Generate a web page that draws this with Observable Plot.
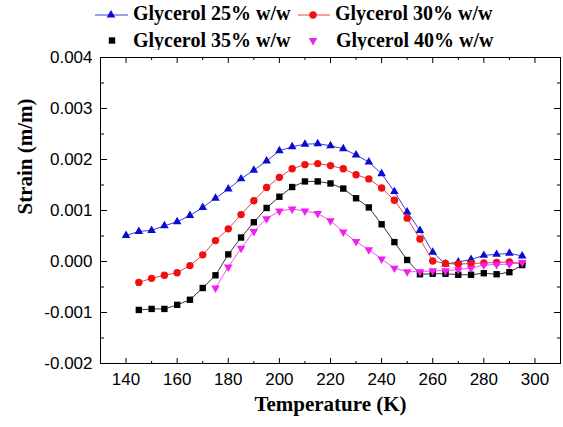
<!DOCTYPE html>
<html>
<head>
<meta charset="utf-8">
<script src="https://cdn.jsdelivr.net/npm/d3@7"></script>
<script src="https://cdn.jsdelivr.net/npm/@observablehq/plot@0.6"></script>
<style>
  body { margin: 0; background: #fff; }
  #wrap { width: 563px; height: 427px; position: relative; background: #fff; }
  #legend { display: block; }
  #chart svg { display: block; }
</style>
</head>
<body>
<div id="wrap">
  <div id="legend"></div>
  <div id="chart"></div>
</div>
<script>
// ---- data ----
const seriesNames = ["Glycerol 25% w/w", "Glycerol 30% w/w", "Glycerol 35% w/w", "Glycerol 40% w/w"];
const seriesColors = ["#0a0ad2", "#f01010", "#000000", "#f020f0"];

const temps25 = [140,145,150,155,160,165,170,175,180,185,190,195,200,205,210,215,220,225,230,235,240,245,250,255,260,265,270,275,280,285,290,295];
const strain25 = [0.00051,0.00059,0.00061,0.00070,0.00078,0.00090,0.00106,0.00124,0.00142,0.00162,0.00179,0.00197,0.00217,0.00225,0.00230,0.00231,0.00227,0.00221,0.00209,0.00195,0.00172,0.00137,0.00097,0.00061,0.00018,-0.00005,-0.00001,0.00004,0.00012,0.00014,0.00016,0.00011];

const temps30 = [145,150,155,160,165,170,175,180,185,190,195,200,205,210,215,220,225,230,235,240,245,250,255,260,265,270,275,280,285,290,295];
const strain30 = [-0.00041,-0.00033,-0.00027,-0.00022,-0.00008,0.00013,0.00041,0.00064,0.00092,0.00119,0.00145,0.00165,0.00182,0.00190,0.00192,0.00188,0.00182,0.00170,0.00162,0.00144,0.00120,0.00085,0.00044,0.00001,-0.00004,-0.00005,-0.00004,-0.00003,-0.00002,-0.00001,-0.00004];

const temps35 = [145,150,155,160,165,170,175,180,185,190,195,200,205,210,215,220,225,230,235,240,245,250,255,260,265,270,275,280,285,290,295];
const strain35 = [-0.00095,-0.00093,-0.00093,-0.00085,-0.00075,-0.00052,-0.00027,0.00014,0.00047,0.00077,0.00105,0.00127,0.00146,0.00157,0.00157,0.00153,0.00143,0.00124,0.00106,0.00073,0.00038,0.00003,-0.00025,-0.00024,-0.00024,-0.00026,-0.00026,-0.00023,-0.00025,-0.00021,-0.00007];

const temps40 = [175,180,185,190,195,200,205,210,215,220,225,230,235,240,245,250,255,260,265,270,275,280,285,290,295];
const strain40 = [-0.00052,-0.00011,0.00026,0.00059,0.00084,0.00099,0.00103,0.00099,0.00094,0.00080,0.00058,0.00039,0.00023,0.00005,-0.00013,-0.00020,-0.00020,-0.00018,-0.00018,-0.00016,-0.00013,-0.00007,-0.00006,-0.00005,-0.00002];

const xMajorTicks = [140,160,180,200,220,240,260,280,300];
const xMinorTicks = [150,170,190,210,230,250,270,290];
const yMajorTicks = [-0.002,-0.001,0,0.001,0.002,0.003,0.004];
const yMinorTicks = [-0.0015,-0.0005,0.0005,0.0015,0.0025,0.0035];

const xLabel = "Temperature (K)";
const yLabel = "Strain (m/m)";

// ---- symbols ----
const triangleDown = {
  draw(context, size) {
    const s3 = Math.sqrt(3);
    const y = Math.sqrt(size / (s3 * 3));
    context.moveTo(0, y * 2);
    context.lineTo(-s3 * y, -y);
    context.lineTo(s3 * y, -y);
    context.closePath();
  }
};
const symbols = ["triangle", "circle", "square", triangleDown];
const radii = [3.2, 3.7, 3.6, 3.2];

const tempsAll = [temps25, temps30, temps35, temps40];
const strainAll = [strain25, strain30, strain35, strain40];
const table = tempsAll.map((ts, i) => ts.map((t, j) => ({t, v: strainAll[i][j], s: i})));

const serifFont = "'Liberation Serif', 'Times New Roman', serif";

const marks = [];
table.forEach((rows, i) => {
  marks.push(Plot.line(rows, {x: "t", y: "v", stroke: seriesColors[i], strokeWidth: 0.8}));
  marks.push(Plot.dot(rows, {x: "t", y: "v", symbol: symbols[i], r: radii[i], fill: seriesColors[i], stroke: "none"}));
});

const chart = Plot.plot({
  width: 563,
  height: 377,
  marginTop: 7,
  marginBottom: 64,
  marginLeft: 100,
  marginRight: 3,
  x: {domain: [130, 310]},
  y: {domain: [-0.002, 0.004]},
  style: {fontFamily: "'Liberation Sans', Arial, sans-serif", fontSize: "17px", color: "#000", background: "#fff", overflow: "visible"},
  marks: [
    // tick labels
    Plot.axisX({anchor: "bottom", ticks: xMajorTicks, tickSize: 0, tickPadding: 9, tickFormat: d => String(d), label: null}),
    Plot.axisY({anchor: "left", ticks: yMajorTicks, tickSize: 0, tickPadding: 8, tickFormat: d => d.toFixed(3), label: null}),
    // inward ticks: bottom
    Plot.axisX({anchor: "top", frameAnchor: "bottom", ticks: xMajorTicks, tickSize: 6, fill: "none", label: null}),
    Plot.axisX({anchor: "top", frameAnchor: "bottom", ticks: xMinorTicks, tickSize: 3, fill: "none", label: null}),
    // top
    Plot.axisX({anchor: "bottom", frameAnchor: "top", ticks: xMajorTicks, tickSize: 6, fill: "none", label: null}),
    Plot.axisX({anchor: "bottom", frameAnchor: "top", ticks: xMinorTicks, tickSize: 3, fill: "none", label: null}),
    // left
    Plot.axisY({anchor: "right", frameAnchor: "left", ticks: yMajorTicks, tickSize: 6, fill: "none", label: null}),
    Plot.axisY({anchor: "right", frameAnchor: "left", ticks: yMinorTicks, tickSize: 3, fill: "none", label: null}),
    // right
    Plot.axisY({anchor: "left", frameAnchor: "right", ticks: yMajorTicks, tickSize: 6, fill: "none", label: null}),
    Plot.axisY({anchor: "left", frameAnchor: "right", ticks: yMinorTicks, tickSize: 3, fill: "none", label: null}),
    Plot.frame({stroke: "#000", strokeWidth: 1}),
    ...marks,
    // axis titles
    Plot.text([xLabel], {text: d => d, frameAnchor: "bottom", dy: 47, fontFamily: serifFont, fontWeight: "bold", fontSize: 21, fill: "#000"}),
    Plot.text([yLabel], {text: d => d, frameAnchor: "left", rotate: -90, dx: -75, dy: 4, fontFamily: serifFont, fontWeight: "bold", fontSize: 21, fill: "#000"})
  ]
});
document.getElementById("chart").appendChild(chart);

// ---- legend (above the plot) ----
const ns = "http://www.w3.org/2000/svg";
const leg = document.createElementNS(ns, "svg");
leg.setAttribute("width", 563);
leg.setAttribute("height", 50);
leg.style.display = "block";
const legendItems = [
  {i: 0, sx: 111, sy: 15, tx: 133, ty: 20, line: [95, 128]},
  {i: 1, sx: 313, sy: 15, tx: 335, ty: 20, line: [298, 330]},
  {i: 2, sx: 112, sy: 40.5, tx: 133, ty: 47, line: null},
  {i: 3, sx: 313, sy: 40.5, tx: 336, ty: 47, line: null}
];
const symbolFns = [d3.symbolTriangle, d3.symbolCircle, d3.symbolSquare, triangleDown];
legendItems.forEach(it => {
  if (it.line) {
    const l = document.createElementNS(ns, "line");
    l.setAttribute("x1", it.line[0]); l.setAttribute("x2", it.line[1]);
    l.setAttribute("y1", it.sy); l.setAttribute("y2", it.sy);
    l.setAttribute("stroke", seriesColors[it.i]); l.setAttribute("stroke-width", 0.8);
    leg.appendChild(l);
  }
  const p = document.createElementNS(ns, "path");
  const r = radii[it.i];
  p.setAttribute("d", d3.symbol(symbolFns[it.i], Math.PI * r * r)());
  p.setAttribute("transform", `translate(${it.sx},${it.sy})`);
  p.setAttribute("fill", seriesColors[it.i]);
  leg.appendChild(p);
  const t = document.createElementNS(ns, "text");
  t.setAttribute("x", it.tx); t.setAttribute("y", it.ty);
  t.setAttribute("font-family", serifFont);
  t.setAttribute("font-weight", "bold");
  t.setAttribute("font-size", 20);
  t.setAttribute("fill", "#000");
  t.textContent = seriesNames[it.i];
  leg.appendChild(t);
});
document.getElementById("legend").appendChild(leg);
</script>
</body>
</html>
